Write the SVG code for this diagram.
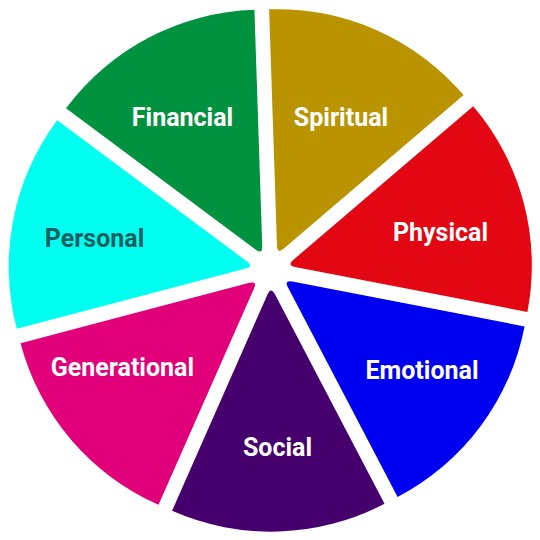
<svg xmlns="http://www.w3.org/2000/svg" xmlns:xlink="http://www.w3.org/1999/xlink" width="540" height="540" viewBox="0 0 540 540">
  <style>
    .lbl { font-family: Roboto, "Liberation Sans", sans-serif; font-weight: bold; font-size: 25px; text-anchor: middle; fill: #ffffff; }
    .dark { fill: #1d5e63; }
  </style>
  <defs>
    <path id="wedge" d="M24.49,-3.61 L237.74,-106.30 A245,245 0 0 1 237.74,106.30 L24.49,3.61 Q17,0 24.49,-3.61 Z"/>
  </defs>
  <rect width="540" height="540" fill="#ffffff"/>
  <g id="spiritual">
    <use xlink:href="#wedge" href="#wedge" transform="translate(270.4,269.7) rotate(-66.19)" fill="#b99400"/>
    <text class="lbl" x="341" y="126">Spiritual</text>
  </g>
  <g id="physical">
    <use xlink:href="#wedge" href="#wedge" transform="translate(270.4,269.7) rotate(-14.76)" fill="#e30613"/>
    <text class="lbl" x="440.5" y="241">Physical</text>
  </g>
  <g id="emotional">
    <use xlink:href="#wedge" href="#wedge" transform="translate(270.4,269.7) rotate(36.67)" fill="#0000f0"/>
    <text class="lbl" x="422" y="379">Emotional</text>
  </g>
  <g id="social">
    <use xlink:href="#wedge" href="#wedge" transform="translate(270.4,269.7) rotate(88.1)" fill="#46006e"/>
    <text class="lbl" x="277.5" y="456">Social</text>
  </g>
  <g id="generational">
    <use xlink:href="#wedge" href="#wedge" transform="translate(270.4,269.7) rotate(139.53)" fill="#e2007a"/>
    <text class="lbl" x="122.4" y="376">Generational</text>
  </g>
  <g id="personal">
    <use xlink:href="#wedge" href="#wedge" transform="translate(270.4,269.7) rotate(190.96)" fill="#00fff0"/>
    <text class="lbl dark" x="94.5" y="247">Personal</text>
  </g>
  <g id="financial">
    <use xlink:href="#wedge" href="#wedge" transform="translate(270.4,269.7) rotate(242.39)" fill="#00923f"/>
    <text class="lbl" x="182.5" y="125.7">Financial</text>
  </g>
  <g id="connectors"/>
</svg>
